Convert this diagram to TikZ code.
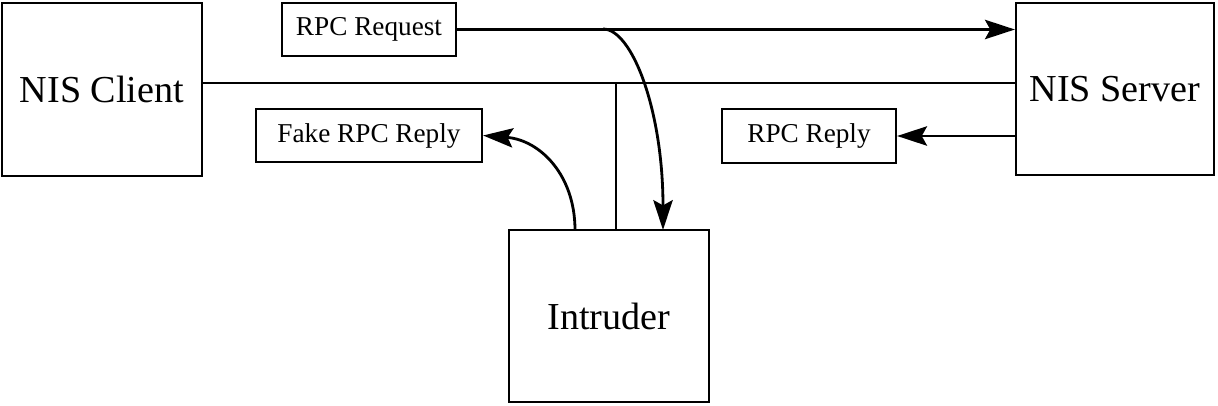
\documentclass[tikz,border=0pt]{standalone}
\usepackage{fontspec}
\setmainfont{Liberation Serif}
\usepackage{tikz}
\usetikzlibrary{arrows.meta, positioning, calc}
\tikzset{
  hostbox/.style={rectangle, draw=black, fill=white, align=center,
    minimum width=4cm, minimum height=3.45cm, inner sep=0pt,
    font=\fontsize{21.7}{24}\selectfont, line width=1.3pt},
  msgbox/.style={rectangle, draw=black, fill=white, align=center,
    minimum width=3.48cm, minimum height=1.07cm, inner sep=0pt,
    font=\fontsize{15.5}{18}\selectfont, line width=1.3pt},
  arrow/.style={-{Stealth[length=17pt, width=11pt, inset=3pt]}, line width=1.6pt},
  line/.style={line width=1.3pt}
}

\begin{document}
\begin{tikzpicture}[x=0.02cm, y=-0.02cm]
  \useasboundingbox (0,0) rectangle (1218,406);

  % Nodes
  \node[hostbox] (cli) at (102,89.5) {NIS Client};
  \node[hostbox, minimum width=3.96cm] (srv) at (1115,89) {NIS Server};
  \node[hostbox] (intr) at (609,316) {Intruder};
  \node[msgbox] (req) at (369,29.5) {RPC Request};
  \node[msgbox, minimum width=4.52cm] (fake) at (369,135.5) {Fake RPC Reply};
  \node[msgbox] (rep) at (809,136) {RPC Reply};

  \coordinate (tap) at (616,83);
  \coordinate (fork) at (603,29);
  \coordinate (sniff) at (663,230);
  \coordinate (spoof) at (575,230);

  % Paths
  \draw[line] (cli.east |- tap) -- (srv.west |- tap);
  \draw[line] (tap) -- (tap |- intr.north);
  \draw[arrow] (req.east) -- (req.east -| srv.west);
  \draw[arrow] (fork) .. controls (632,29) and (663,110) .. (sniff);
  \draw[arrow] (spoof) .. controls (575,175) and (540,140) .. (fake.east);
  \draw[arrow] (srv.west |- rep.east) -- (rep.east);

\end{tikzpicture}
\end{document}
